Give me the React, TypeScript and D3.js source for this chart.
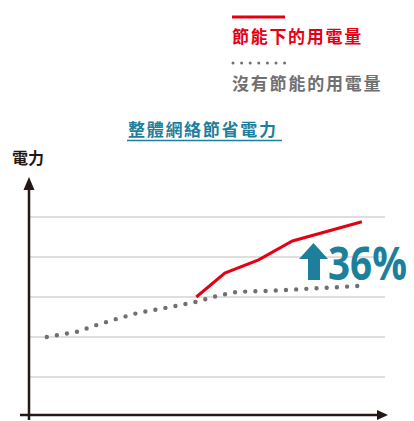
import React, { useEffect, useRef } from 'react'
import * as d3 from 'd3'

// x in months, y in power units (gridlines at 1..5)
const baselineX = [1, 2.7, 3.8, 4.9, 6.1, 8.3, 9.4, 10.6, 11.7, 13.4, 18.7]
const baselineY = [2.0, 2.13, 2.3, 2.45, 2.6, 2.78, 2.88, 3.03, 3.13, 3.15, 3.28]
const savingX = [9.4, 11.0, 12.9, 14.8, 18.7]
const savingY = [3.0, 3.6, 3.93, 4.4, 4.88]
const gridTicks = [1, 2, 3, 4, 5]

const legendLabels = ['節能下的用電量', '沒有節能的用電量']
const titleText = '整體網絡節省電力'
const yLabel = '電力'
const increaseText = '36%'

export default function App(): React.ReactElement {
  const chartRef = useRef<HTMLDivElement>(null)

  useEffect(() => {
    const width = 414
    const height = 421
    const red = '#e50012'
    const grey = '#707070'
    const teal = '#1e7f9c'
    const dark = '#231815'
    const cjk = '"Noto Sans CJK TC", "Noto Sans CJK SC", sans-serif'

    const x = d3.scaleLinear().domain([0, 20]).range([29, 385])
    const y = d3.scaleLinear().domain([0, 5]).range([417, 217])

    d3.select(chartRef.current).select('svg').remove()

    const svg = d3
      .select(chartRef.current)
      .append('svg')
      .attr('width', width)
      .attr('height', height)
      .attr('viewBox', `0 0 ${width} ${height}`)
      .style('position', 'absolute')
      .style('left', '0px')
      .style('top', '0px')
      .style('background', '#fff')

    // gridlines
    svg
      .append('g')
      .selectAll('line')
      .data(gridTicks)
      .join('line')
      .attr('x1', x(0))
      .attr('x2', x(20))
      .attr('y1', (d) => y(d))
      .attr('y2', (d) => y(d))
      .attr('stroke', '#d3d3d3')
      .attr('stroke-width', 1.5)

    // axes
    const axisY = 415
    svg
      .append('line')
      .attr('x1', 20)
      .attr('x2', 380)
      .attr('y1', axisY)
      .attr('y2', axisY)
      .attr('stroke', dark)
      .attr('stroke-width', 2.5)
    svg
      .append('path')
      .attr('d', `M388,${axisY} L377,${axisY - 5} L377,${axisY + 5} Z`)
      .attr('fill', dark)
    svg
      .append('line')
      .attr('x1', x(0))
      .attr('x2', x(0))
      .attr('y1', 420)
      .attr('y2', 186)
      .attr('stroke', dark)
      .attr('stroke-width', 2.5)
    svg
      .append('path')
      .attr('d', `M${x(0)},177 L${x(0) - 5.5},190 L${x(0) + 5.5},190 Z`)
      .attr('fill', dark)

    const line = d3
      .line<[number, number]>()
      .x((d) => x(d[0]))
      .y((d) => y(d[1]))

    const baseline = baselineX.map((v, i) => [v, baselineY[i]] as [number, number])
    const saving = savingX.map((v, i) => [v, savingY[i]] as [number, number])

    svg
      .append('path')
      .attr('d', line(baseline))
      .attr('fill', 'none')
      .attr('stroke', grey)
      .attr('stroke-width', 4.4)
      .attr('stroke-linecap', 'round')
      .attr('stroke-dasharray', '0 10.2')

    svg
      .append('path')
      .attr('d', line(saving))
      .attr('fill', 'none')
      .attr('stroke', red)
      .attr('stroke-width', 3)

    // legend
    svg
      .append('line')
      .attr('x1', 232)
      .attr('x2', 285)
      .attr('y1', 17)
      .attr('y2', 17)
      .attr('stroke', red)
      .attr('stroke-width', 3)
    svg
      .append('text')
      .attr('x', 232)
      .attr('y', 43)
      .attr('fill', red)
      .attr('font-family', cjk)
      .attr('font-weight', 700)
      .attr('font-size', 17)
      .attr('letter-spacing', 1.7)
      .text(legendLabels[0])
    svg
      .append('line')
      .attr('x1', 233)
      .attr('x2', 285)
      .attr('y1', 63)
      .attr('y2', 63)
      .attr('stroke', grey)
      .attr('stroke-width', 3)
      .attr('stroke-linecap', 'round')
      .attr('stroke-dasharray', '0 8.6')
    svg
      .append('text')
      .attr('x', 232)
      .attr('y', 90)
      .attr('fill', grey)
      .attr('font-family', cjk)
      .attr('font-weight', 700)
      .attr('font-size', 17)
      .attr('letter-spacing', 1.8)
      .text(legendLabels[1])

    // title
    svg
      .append('text')
      .attr('x', 128)
      .attr('y', 136)
      .attr('fill', teal)
      .attr('font-family', cjk)
      .attr('font-weight', 700)
      .attr('font-size', 17)
      .attr('letter-spacing', 1.7)
      .text(titleText)
    svg
      .append('line')
      .attr('x1', 127)
      .attr('x2', 282)
      .attr('y1', 140.5)
      .attr('y2', 140.5)
      .attr('stroke', teal)
      .attr('stroke-width', 1.5)

    svg
      .append('text')
      .attr('x', 12)
      .attr('y', 164)
      .attr('fill', dark)
      .attr('font-family', cjk)
      .attr('font-weight', 700)
      .attr('font-size', 16)
      .text(yLabel)

    // increase callout
    svg
      .append('path')
      .attr(
        'd',
        'M313.5,243 L328,259 L320,259 L320,280 L308,280 L308,259 L299,259 Z'
      )
      .attr('fill', teal)
    const pct = svg
      .append('g')
      .append('text')
      .attr('x', 0)
      .attr('y', 0)
      .attr('fill', teal)
      .attr('font-family', '"Open Sans", sans-serif')
      .attr('font-weight', 700)
      .attr('font-size', 46)
      .text(increaseText)
    const natural = (pct.node() as SVGTextElement).getComputedTextLength() || 93
    const sx = 79 / natural
    d3.select((pct.node() as SVGTextElement).parentNode as SVGGElement).attr(
      'transform',
      `translate(328,280) scale(${sx},1)`
    )
  }, [])

  return <div ref={chartRef}></div>
}
